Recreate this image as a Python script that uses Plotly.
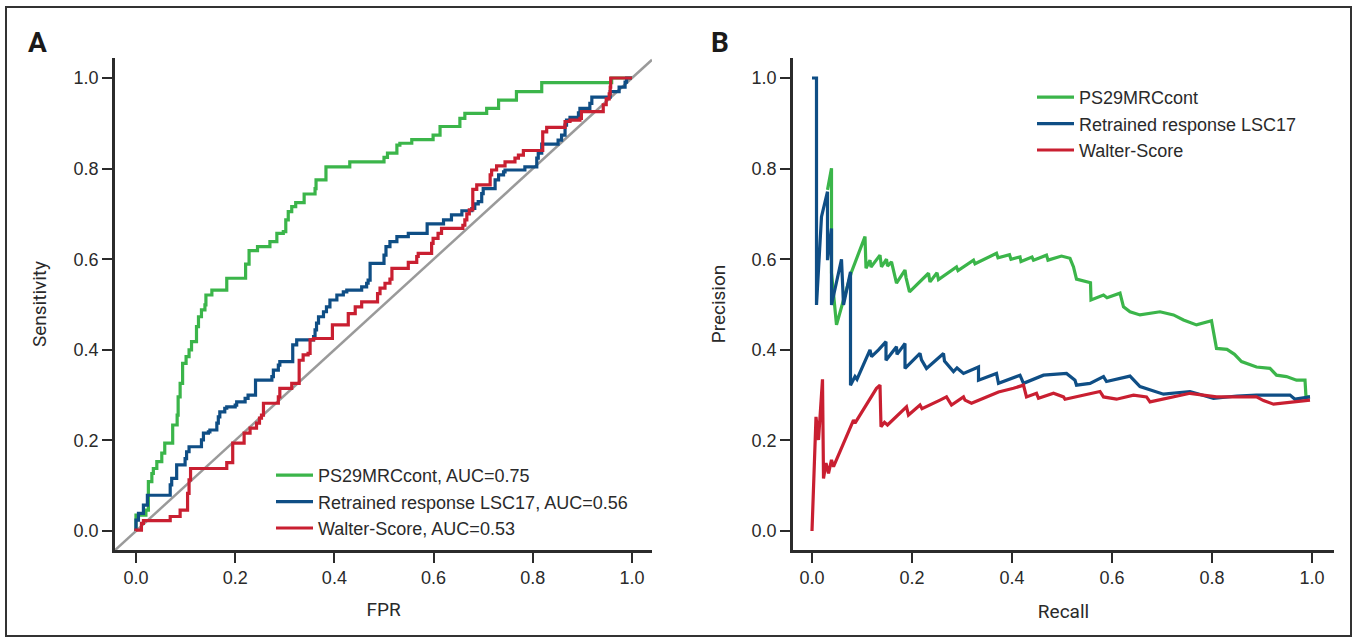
import plotly.graph_objects as go

# ---------------- Panel A: ROC data (FPR, Sensitivity) ----------------
ps29_fpr = [0.0, 0.0, 0.02, 0.025, 0.025, 0.032, 0.035, 0.042, 0.052, 0.058, 0.072, 0.074, 0.083, 0.085, 0.089,
            0.094, 0.101, 0.107, 0.112, 0.122, 0.126, 0.132, 0.139, 0.141, 0.149, 0.153, 0.177, 0.183, 0.220, 0.221,
            0.228, 0.228, 0.245, 0.270, 0.270, 0.280, 0.284, 0.297, 0.302, 0.307, 0.314, 0.322, 0.334, 0.339, 0.354,
            0.361, 0.363, 0.383, 0.383, 0.430, 0.431, 0.499, 0.500, 0.507, 0.522, 0.526, 0.532, 0.556, 0.596, 0.599,
            0.613, 0.613, 0.650, 0.653, 0.663, 0.704, 0.707, 0.724, 0.731, 0.761, 0.767, 0.815, 0.818, 0.956, 0.959, 1.0]
ps29_tpr = [0.0, 0.035, 0.046, 0.046, 0.109, 0.127, 0.138, 0.153, 0.172, 0.194, 0.194, 0.234, 0.256, 0.296, 0.326,
            0.370, 0.385, 0.400, 0.418, 0.451, 0.473, 0.488, 0.499, 0.521, 0.521, 0.532, 0.532, 0.558, 0.558, 0.589,
            0.589, 0.619, 0.628, 0.628, 0.639, 0.639, 0.657, 0.661, 0.687, 0.705, 0.716, 0.725, 0.725, 0.744, 0.744,
            0.756, 0.775, 0.775, 0.804, 0.804, 0.815, 0.815, 0.825, 0.834, 0.834, 0.852, 0.856, 0.864, 0.864, 0.874,
            0.874, 0.893, 0.893, 0.911, 0.922, 0.922, 0.933, 0.933, 0.951, 0.951, 0.970, 0.970, 0.990, 0.990, 1.0, 1.0]

lsc17_fpr = [0.0, 0.0, 0.005, 0.011, 0.015, 0.020, 0.023, 0.065, 0.069, 0.072, 0.082, 0.095, 0.099, 0.102, 0.107,
             0.129, 0.132, 0.136, 0.146, 0.149, 0.159, 0.163, 0.166, 0.169, 0.179, 0.183, 0.200, 0.203, 0.216, 0.220,
             0.226, 0.240, 0.241, 0.270, 0.274, 0.277, 0.287, 0.290, 0.314, 0.316, 0.324, 0.347, 0.358, 0.361, 0.364,
             0.368, 0.378, 0.384, 0.391, 0.405, 0.418, 0.425, 0.452, 0.455, 0.465, 0.468, 0.472, 0.499, 0.500, 0.504,
             0.512, 0.524, 0.526, 0.546, 0.549, 0.586, 0.587, 0.616, 0.620, 0.633, 0.636, 0.653, 0.657, 0.670, 0.677,
             0.683, 0.690, 0.697, 0.700, 0.720, 0.724, 0.731, 0.741, 0.744, 0.781, 0.784, 0.804, 0.808, 0.811, 0.818,
             0.848, 0.851, 0.858, 0.865, 0.868, 0.875, 0.889, 0.892, 0.895, 0.912, 0.915, 0.919, 0.952, 0.956, 0.972,
             0.974, 0.986, 0.989, 1.0]
lsc17_tpr = [0.0, 0.024, 0.039, 0.039, 0.057, 0.057, 0.079, 0.079, 0.102, 0.116, 0.146, 0.146, 0.160, 0.175, 0.186,
             0.186, 0.201, 0.216, 0.219, 0.223, 0.223, 0.238, 0.252, 0.263, 0.271, 0.274, 0.278, 0.285, 0.285, 0.293,
             0.300, 0.300, 0.333, 0.333, 0.341, 0.355, 0.366, 0.374, 0.374, 0.411, 0.422, 0.422, 0.429, 0.444, 0.459,
             0.473, 0.484, 0.495, 0.510, 0.521, 0.528, 0.532, 0.532, 0.539, 0.547, 0.554, 0.591, 0.591, 0.609, 0.628,
             0.639, 0.639, 0.650, 0.650, 0.657, 0.657, 0.678, 0.678, 0.687, 0.687, 0.698, 0.698, 0.707, 0.707, 0.712,
             0.722, 0.727, 0.745, 0.756, 0.756, 0.775, 0.786, 0.793, 0.797, 0.797, 0.804, 0.804, 0.823, 0.834, 0.854,
             0.854, 0.863, 0.874, 0.896, 0.907, 0.913, 0.913, 0.923, 0.933, 0.933, 0.944, 0.958, 0.958, 0.970, 0.970,
             0.980, 0.991, 1.0, 1.0]

walter_fpr = [0.0, 0.0, 0.011, 0.015, 0.065, 0.069, 0.085, 0.089, 0.102, 0.104, 0.107, 0.110, 0.179, 0.183, 0.193,
              0.195, 0.216, 0.218, 0.226, 0.230, 0.243, 0.249, 0.253, 0.257, 0.284, 0.287, 0.290, 0.310, 0.314, 0.327,
              0.329, 0.337, 0.347, 0.351, 0.358, 0.395, 0.396, 0.425, 0.428, 0.442, 0.455, 0.485, 0.487, 0.492, 0.502,
              0.512, 0.516, 0.546, 0.549, 0.562, 0.566, 0.569, 0.593, 0.596, 0.599, 0.609, 0.616, 0.657, 0.659, 0.663,
              0.667, 0.672, 0.679, 0.687, 0.710, 0.714, 0.717, 0.727, 0.741, 0.744, 0.764, 0.771, 0.781, 0.808, 0.820,
              0.828, 0.861, 0.865, 0.875, 0.895, 0.898, 0.939, 0.942, 0.948, 0.954, 0.956, 0.957, 1.0]
walter_tpr = [0.0, 0.002, 0.017, 0.023, 0.023, 0.032, 0.032, 0.046, 0.046, 0.083, 0.113, 0.138, 0.138, 0.151, 0.151,
              0.194, 0.194, 0.216, 0.216, 0.227, 0.238, 0.249, 0.256, 0.282, 0.282, 0.296, 0.315, 0.315, 0.326, 0.326,
              0.377, 0.389, 0.392, 0.422, 0.425, 0.425, 0.455, 0.455, 0.480, 0.495, 0.506, 0.506, 0.524, 0.536, 0.547,
              0.556, 0.580, 0.580, 0.593, 0.593, 0.606, 0.613, 0.613, 0.635, 0.646, 0.657, 0.668, 0.668, 0.675, 0.687,
              0.700, 0.709, 0.754, 0.764, 0.764, 0.786, 0.797, 0.806, 0.806, 0.815, 0.823, 0.830, 0.840, 0.840, 0.881,
              0.891, 0.891, 0.904, 0.907, 0.911, 0.926, 0.926, 0.941, 0.954, 0.965, 0.980, 1.0, 1.0]

# ---------------- Panel B: Precision-Recall data ----------------
ps29_rec = [0.031, 0.039, 0.039, 0.049, 0.063, 0.079, 0.106, 0.108, 0.116, 0.118, 0.136, 0.139, 0.149, 0.151, 0.159,
            0.169, 0.186, 0.188, 0.195, 0.233, 0.236, 0.250, 0.253, 0.289, 0.292, 0.323, 0.326, 0.369, 0.372, 0.395,
            0.398, 0.416, 0.418, 0.440, 0.443, 0.469, 0.472, 0.499, 0.516, 0.523, 0.529, 0.549, 0.557, 0.558, 0.583,
            0.590, 0.616, 0.623, 0.636, 0.656, 0.696, 0.723, 0.743, 0.769, 0.799, 0.809, 0.830, 0.845, 0.859, 0.889,
            0.916, 0.929, 0.949, 0.969, 0.986, 0.988, 0.996]
ps29_prec = [0.753, 0.801, 0.570, 0.455, 0.510, 0.572, 0.650, 0.580, 0.598, 0.583, 0.609, 0.583, 0.600, 0.585, 0.594,
             0.547, 0.576, 0.560, 0.528, 0.569, 0.550, 0.570, 0.555, 0.583, 0.575, 0.598, 0.590, 0.613, 0.603, 0.610,
             0.600, 0.605, 0.595, 0.605, 0.598, 0.609, 0.598, 0.607, 0.602, 0.583, 0.556, 0.550, 0.548, 0.510, 0.521,
             0.515, 0.525, 0.495, 0.484, 0.477, 0.484, 0.477, 0.466, 0.455, 0.464, 0.403, 0.401, 0.390, 0.374, 0.362,
             0.359, 0.344, 0.341, 0.333, 0.333, 0.296, 0.296]

lsc17_rec = [0.0, 0.009, 0.009, 0.019, 0.031, 0.031, 0.039, 0.039, 0.059, 0.063, 0.077, 0.077, 0.086, 0.090, 0.116,
             0.119, 0.133, 0.148, 0.148, 0.169, 0.170, 0.186, 0.186, 0.216, 0.219, 0.229, 0.263, 0.265, 0.283, 0.290,
             0.303, 0.333, 0.333, 0.369, 0.373, 0.416, 0.423, 0.463, 0.509, 0.526, 0.529, 0.556, 0.583, 0.589, 0.636,
             0.656, 0.703, 0.756, 0.803, 0.850, 0.889, 0.956, 0.966, 0.996]
lsc17_prec = [1.0, 1.0, 0.499, 0.694, 0.749, 0.598, 0.668, 0.499, 0.600, 0.499, 0.572, 0.322, 0.341, 0.335, 0.400,
              0.385, 0.400, 0.418, 0.377, 0.407, 0.390, 0.414, 0.359, 0.392, 0.378, 0.359, 0.392, 0.375, 0.352, 0.360,
              0.348, 0.362, 0.333, 0.348, 0.326, 0.344, 0.326, 0.344, 0.348, 0.333, 0.322, 0.326, 0.341, 0.330, 0.342,
              0.319, 0.302, 0.308, 0.293, 0.298, 0.300, 0.300, 0.291, 0.296]

walter_rec = [0.0, 0.008, 0.013, 0.021, 0.023, 0.028, 0.033, 0.039, 0.043, 0.083, 0.086, 0.129, 0.136, 0.138, 0.145,
              0.151, 0.189, 0.193, 0.216, 0.220, 0.256, 0.269, 0.279, 0.303, 0.306, 0.319, 0.349, 0.373, 0.403, 0.423,
              0.429, 0.449, 0.453, 0.483, 0.503, 0.506, 0.576, 0.583, 0.609, 0.643, 0.669, 0.676, 0.756, 0.809, 0.889,
              0.903, 0.923, 0.996]
walter_prec = [0.0, 0.252, 0.201, 0.335, 0.116, 0.150, 0.127, 0.157, 0.142, 0.245, 0.238, 0.315, 0.322, 0.230, 0.240,
               0.234, 0.274, 0.256, 0.278, 0.270, 0.289, 0.296, 0.278, 0.296, 0.289, 0.282, 0.296, 0.307, 0.315, 0.322,
               0.296, 0.304, 0.293, 0.304, 0.296, 0.291, 0.308, 0.296, 0.291, 0.300, 0.296, 0.285, 0.304, 0.296, 0.296,
               0.288, 0.280, 0.289]

series_names = ["PS29MRCcont", "Retrained response LSC17", "Walter-Score"]
auc_values = [0.75, 0.56, 0.53]
colors = ["#3BB54A", "#0F4E85", "#C91F31"]
tick_vals = [0.0, 0.2, 0.4, 0.6, 0.8, 1.0]

W, H = 1356, 638
AXC = "#2b2b2b"
NARROW = "Liberation Sans Narrow, Arial Narrow, Roboto, sans-serif"
REG = "Liberation Sans, Arial, Helvetica, sans-serif"

xa_range = [-0.0423, 1.0403]
ya_range = [-0.0419, 1.0442]
xb_range = [-0.038, 1.044]

fig = go.Figure()

# identity reference line on ROC panel
fig.add_shape(type="line", xref="x", yref="y", x0=xa_range[0], y0=xa_range[0], x1=xa_range[1], y1=xa_range[1],
              line=dict(color="#9a9a9a", width=2.5), layer="below")

roc = [(ps29_fpr, ps29_tpr), (lsc17_fpr, lsc17_tpr), (walter_fpr, walter_tpr)]
for (fx, ty), name, auc, c in zip(roc, series_names, auc_values, colors):
    fig.add_trace(go.Scatter(x=fx, y=ty, mode="lines", line=dict(color=c, width=3.2, shape="hv"),
                             name=f"{name}, AUC={auc:.2f}", xaxis="x", yaxis="y", legend="legend"))

pr = [(ps29_rec, ps29_prec), (lsc17_rec, lsc17_prec), (walter_rec, walter_prec)]
for (rx, py), name, c in zip(pr, series_names, colors):
    fig.add_trace(go.Scatter(x=rx, y=py, mode="lines", line=dict(color=c, width=3.2),
                             name=name, xaxis="x2", yaxis="y2", legend="legend2"))

axis_common = dict(showline=True, linewidth=2.5, linecolor=AXC, ticks="outside", ticklen=10, tickwidth=2,
                   tickcolor=AXC, showgrid=False, zeroline=False, tickvals=tick_vals, tickformat=".1f",
                   tickfont=dict(family=REG, size=18, color="#2a2a2a"), mirror=False)

title_font = dict(family=NARROW, size=19, color="#2a2a2a")

fig.update_layout(
    width=W, height=H,
    margin=dict(l=0, r=0, t=0, b=0),
    paper_bgcolor="white", plot_bgcolor="white",
    showlegend=True,
    xaxis=dict(domain=[115 / W, 652 / W], range=xa_range, anchor="y",
               title=dict(text="FPR", font=title_font, standoff=16), **axis_common),
    yaxis=dict(domain=[1 - 550 / H, 1 - 58 / H], range=ya_range, anchor="x",
               title=dict(text="Sensitivity", font=title_font, standoff=22), **axis_common),
    xaxis2=dict(domain=[793 / W, 1334 / W], range=xb_range, anchor="y2",
                title=dict(text="Recall", font=title_font, standoff=18), **axis_common),
    yaxis2=dict(domain=[1 - 550 / H, 1 - 58 / H], range=ya_range, anchor="x2",
                title=dict(text="Precision", font=title_font, standoff=21), **axis_common),
    legend=dict(x=271 / W, y=1 - 457 / H, xanchor="left", yanchor="top", bgcolor="rgba(0,0,0,0)",
                font=dict(family=REG, size=18, color="#2a2a2a"), itemwidth=37, tracegroupgap=0),
    legend2=dict(x=1032 / W, y=1 - 79 / H, xanchor="left", yanchor="top", bgcolor="rgba(0,0,0,0)",
                 font=dict(family=REG, size=18, color="#2a2a2a"), itemwidth=37, tracegroupgap=0),
)

# panel letters
for letter, px in [("A", 37), ("B", 720)]:
    fig.add_annotation(text=f"<b>{letter}</b>", x=px / W, y=1 - 42 / H, xref="paper", yref="paper",
                       showarrow=False, xanchor="center", yanchor="middle",
                       font=dict(family=NARROW, size=28, color="#1a1a1a"))

# figure frame
fig.add_shape(type="rect", xref="paper", yref="paper", x0=6 / W, y0=1 - 636 / H, x1=1351 / W, y1=1 - 7 / H,
              line=dict(color="#333333", width=2), fillcolor="rgba(0,0,0,0)")

fig.write_html("out.html", config={"displayModeBar": False},
               post_script="document.body.style.margin='0px';")
